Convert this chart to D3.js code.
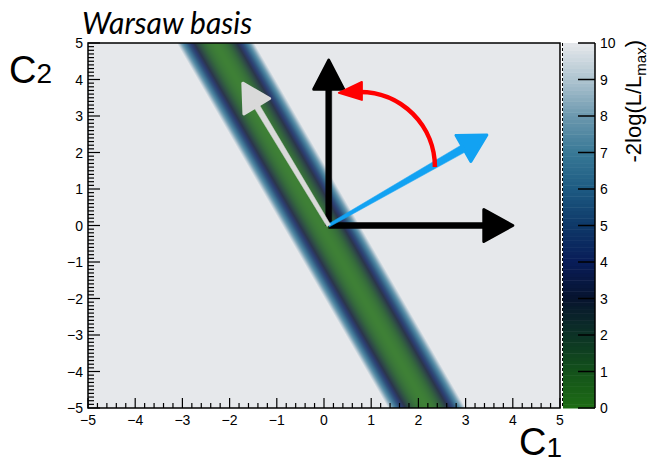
<!DOCTYPE html>
<html>
<head>
<meta charset="utf-8">
<script src="https://cdn.jsdelivr.net/npm/d3@7"></script>
<style>
  body { margin: 0; background: #fff; }
  svg { display: block; }
</style>
</head>
<body>
<script>
var width = 662, height = 465;

// axes
var c1Domain = [-5, 5];
var c2Domain = [-5, 5];
var c1Ticks = [-5, -4, -3, -2, -1, 0, 1, 2, 3, 4, 5];
var c2Ticks = [-5, -4, -3, -2, -1, 0, 1, 2, 3, 4, 5];
var zTicks = [0, 1, 2, 3, 4, 5, 6, 7, 8, 9, 10];

// palette of -2log(L/Lmax), one colour per integer value
var zStops = [0, 1, 2, 3, 4, 5, 6, 7, 8, 9, 10];
var zColors = ["#1e6c14", "#13521a", "#0c3226", "#07142e", "#081c58", "#0e3868",
               "#1d5a82", "#387896", "#6c98ae", "#aec4d0", "#e6e8eb"];

// valley of the likelihood: c1 of the minimum at c2 = -5 and c2 = 5, width along c1
var valleyC2 = [-5, 5];
var valleyC1 = [2.18, -2.3];
var valleySigma = 0.26;

// arrows drawn on top (c1, c2)
var arrowOrigin = [0.1, 0];
var arrowTips = [[4.0, 0], [0.1, 4.53], [3.45, 2.48], [-1.72, 3.9]];
var arcStart = [2.35, 1.6];
var arcEnd = [0.76, 3.66];

var margin = {left: 88, right: 102, top: 43, bottom: 57};
var pw = width - margin.left - margin.right;
var ph = height - margin.top - margin.bottom;

var x = d3.scaleLinear().domain(c1Domain).range([margin.left, margin.left + pw]);
var y = d3.scaleLinear().domain(c2Domain).range([margin.top + ph, margin.top]);
var color = d3.scaleLinear().domain(zStops).range(zColors).clamp(true);

var valleyLine = d3.scaleLinear().domain(valleyC2).range(valleyC1);
function chi2(c1, c2) {
  var d = (c1 - valleyLine(c2)) / valleySigma;
  return d * d;
}

var svg = d3.select("body").append("svg")
    .attr("width", width)
    .attr("height", height)
    .style("font-family", "'Liberation Sans', Arial, sans-serif");

// heat map rendered to a canvas, placed as an image (slightly washed over the grey pad)
var canvas = document.createElement("canvas");
canvas.width = pw; canvas.height = ph;
var ctx = canvas.getContext("2d");
var img = ctx.createImageData(pw, ph);
var pad = d3.rgb(zColors[zColors.length - 1]);
var a = 0.84;
for (var j = 0; j < ph; j++) {
  var c2 = y.invert(margin.top + j + 0.5);
  for (var i = 0; i < pw; i++) {
    var c1 = x.invert(margin.left + i + 0.5);
    var c = d3.rgb(color(chi2(c1, c2)));
    var k = (j * pw + i) * 4;
    img.data[k] = a * c.r + (1 - a) * pad.r;
    img.data[k + 1] = a * c.g + (1 - a) * pad.g;
    img.data[k + 2] = a * c.b + (1 - a) * pad.b;
    img.data[k + 3] = 255;
  }
}
ctx.putImageData(img, 0, 0);
svg.append("image")
    .attr("x", margin.left).attr("y", margin.top)
    .attr("width", pw).attr("height", ph)
    .attr("href", canvas.toDataURL());

// frame
svg.append("rect")
    .attr("x", margin.left).attr("y", margin.top)
    .attr("width", pw).attr("height", ph)
    .attr("fill", "none").attr("stroke", "#000").attr("stroke-width", 1.5);
svg.append("line")
    .attr("x1", margin.left + pw + 2.5).attr("x2", margin.left + pw + 2.5)
    .attr("y1", margin.top).attr("y2", margin.top + ph)
    .attr("stroke", "#000").attr("stroke-dasharray", "3,2");

// ticks (drawn inside the frame)
var ticks = svg.append("g").attr("stroke", "#000").attr("stroke-width", 1.2);
d3.range(-50, 51).forEach(function (t) {
  var v = t / 10, major = t % 10 === 0;
  ticks.append("line")
      .attr("x1", margin.left).attr("x2", margin.left + (major ? 12 : 6))
      .attr("y1", y(v)).attr("y2", y(v));
});
d3.range(-25, 26).forEach(function (t) {
  var v = t / 5, major = t % 5 === 0;
  ticks.append("line")
      .attr("x1", x(v)).attr("x2", x(v))
      .attr("y1", margin.top + ph).attr("y2", margin.top + ph - (major ? 10 : 5));
});

function fmt(v) { return v < 0 ? "\u2212" + (-v) : String(v); }

svg.append("g").selectAll("text")
    .data(c2Ticks).enter().append("text")
    .attr("x", margin.left - 5).attr("y", function (d) { return y(d); })
    .attr("dy", "0.36em").attr("text-anchor", "end")
    .attr("font-size", 14)
    .text(fmt);

svg.append("g").selectAll("text")
    .data(c1Ticks).enter().append("text")
    .attr("x", function (d) { return x(d); }).attr("y", margin.top + ph + 17)
    .attr("text-anchor", "middle")
    .attr("font-size", 14)
    .text(fmt);

// colour bar
var zx0 = 563, zx1 = 595;
var z = d3.scaleLinear().domain([0, 10]).range([margin.top + ph, margin.top]);
svg.append("g").selectAll("rect")
    .data(d3.range(0, 10, 0.1)).enter().append("rect")
    .attr("x", zx0).attr("width", zx1 - zx0)
    .attr("y", function (d) { return z(d + 0.1); })
    .attr("height", z(0) - z(0.1) + 0.5)
    .attr("fill", function (d) { return color(d + 0.05); });
svg.append("line")
    .attr("x1", zx1).attr("x2", zx1).attr("y1", z(0)).attr("y2", z(10))
    .attr("stroke", "#000").attr("stroke-width", 1.5);
svg.append("g").selectAll("line")
    .data(zTicks).enter().append("line")
    .attr("x1", zx1 - 17).attr("x2", zx1)
    .attr("y1", function (d) { return z(d); }).attr("y2", function (d) { return z(d); })
    .attr("stroke", "#000").attr("stroke-width", 1.5);
svg.append("g").selectAll("text")
    .data(zTicks).enter().append("text")
    .attr("x", zx1 + 5).attr("y", function (d) { return z(d); })
    .attr("dy", "0.36em").attr("font-size", 14)
    .text(String);

var zt = svg.append("text")
    .attr("transform", "translate(641," + (margin.top - 3) + ") rotate(-90)")
    .attr("text-anchor", "end").attr("font-size", 22);
zt.append("tspan").text("-2log(L/L");
zt.append("tspan").attr("font-size", 15).attr("dy", 5).text("max");
zt.append("tspan").attr("dy", -5).text(")");

// axis titles
var t2 = svg.append("text").attr("x", 9).attr("y", 83).attr("font-size", 38);
t2.append("tspan").text("C");
t2.append("tspan").attr("font-size", 28).text("2");
var t1 = svg.append("text").attr("x", 519).attr("y", 455).attr("font-size", 38);
t1.append("tspan").text("C");
t1.append("tspan").attr("font-size", 28).attr("dy", 2).text("1");

svg.append("text")
    .attr("x", 82).attr("y", 34)
    .attr("font-family", "Lato, 'Open Sans', sans-serif")
    .attr("font-style", "italic")
    .attr("font-size", 30)
    .text("Warsaw basis");

// arrows
function arrow(p0, p1, w0, w1, headLen, headHalf) {
  var dx = p1[0] - p0[0], dy = p1[1] - p0[1], L = Math.sqrt(dx * dx + dy * dy);
  var ux = dx / L, uy = dy / L, nx = -uy, ny = ux;
  var bx = p1[0] - ux * headLen, by = p1[1] - uy * headLen;
  return {
    shaft: [[p0[0] + nx * w0 / 2, p0[1] + ny * w0 / 2], [bx + nx * w1 / 2, by + ny * w1 / 2],
            [bx - nx * w1 / 2, by - ny * w1 / 2], [p0[0] - nx * w0 / 2, p0[1] - ny * w0 / 2]],
    head: [[p1[0], p1[1]], [bx + nx * headHalf, by + ny * headHalf], [bx - nx * headHalf, by - ny * headHalf]]
  };
}
var arrowStyle = [
  {fill: "#000", w0: 6, w1: 6, len: 29, half: 16},
  {fill: "#000", w0: 6, w1: 6, len: 29, half: 15},
  {fill: "#12a2f2", w0: 3, w1: 8, len: 27, half: 15},
  {fill: "#d9d9d9", w0: 4, w1: 6, len: 27, half: 15}
];
var o = [x(arrowOrigin[0]), y(arrowOrigin[1])];
var line = d3.line();
arrowTips.forEach(function (tip, i) {
  var s = arrowStyle[i];
  var ar = arrow(o, [x(tip[0]), y(tip[1])], s.w0, s.w1, s.len, s.half);
  var g = svg.append("g").attr("fill", s.fill).attr("stroke", s.fill)
      .attr("stroke-linejoin", "round");
  g.append("path").attr("d", line(ar.shaft) + "Z").attr("stroke-width", 0.5);
  g.append("path").attr("d", line(ar.head) + "Z").attr("stroke-width", 3);
});

// rotation arc
var ax0 = x(arcStart[0]), ay0 = y(arcStart[1]), ax1 = x(arcEnd[0]), ay1 = y(arcEnd[1]);
svg.append("path")
    .attr("d", "M" + ax0 + "," + ay0 + " A" + (ax0 - ax1) + "," + (ay0 - ay1) + " 0 0 0 " + ax1 + "," + ay1)
    .attr("fill", "none").attr("stroke", "#ff0000").attr("stroke-width", 4.5);
svg.append("path")
    .attr("d", line([[ax1 + 2, ay1 - 10], [ax1 - 21, ay1 + 1], [ax1 + 2, ay1 + 8]]) + "Z")
    .attr("fill", "#ff0000").attr("stroke", "#ff0000").attr("stroke-width", 2)
    .attr("stroke-linejoin", "round");
</script>
</body>
</html>
